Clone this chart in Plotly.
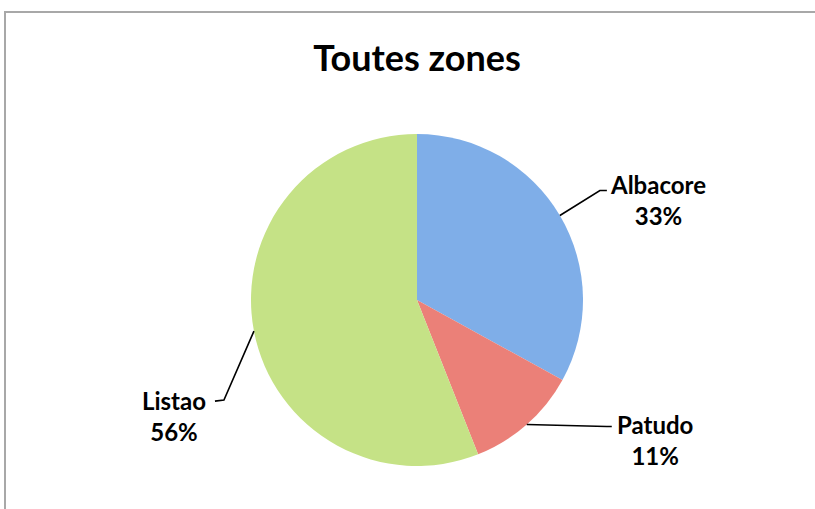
import math
import plotly.graph_objects as go

categories = ["Albacore", "Patudo", "Listao"]
values = [33, 11, 56]
colors = ["#7FAEE8", "#EB8078", "#C5E286"]

W, H = 815, 509
cx, cy, R = 417, 300, 166

fig = go.Figure(go.Pie(
    labels=categories, values=values, sort=False, direction="clockwise",
    rotation=0, textinfo="none", hoverinfo="label+percent",
    marker=dict(colors=colors, line=dict(color="rgba(0,0,0,0)", width=0)),
    domain=dict(x=[(cx - R) / W, (cx + R) / W], y=[1 - (cy + R) / H, 1 - (cy - R) / H]),
    showlegend=False,
))

def px(x, y):
    return x / W, 1 - y / H

# leader line styling offsets (elbow, end, text centre) per slice
styles = [
    dict(elbow=(40, -25), end=(47, -25), text=(98, -15)),
    dict(elbow=(80, 2), end=(85, 2), text=(128, 15)),
    dict(elbow=(-30, 69), end=(-39, 70), text=(-80, 85)),
]

total = sum(values)
cum = 0
shapes = []
annotations = []
for cat, v, st in zip(categories, values, styles):
    mid = cum + v / 2
    cum += v
    ang = math.radians(90 - 360 * mid / total)
    ex, ey = cx + R * math.cos(ang), cy - R * math.sin(ang)
    pts = [(ex, ey), (ex + st["elbow"][0], ey + st["elbow"][1]), (ex + st["end"][0], ey + st["end"][1])]
    path = "M " + " L ".join(f"{px(*p)[0]:.5f},{px(*p)[1]:.5f}" for p in pts)
    shapes.append(dict(type="path", xref="paper", yref="paper", path=path,
                       line=dict(color="black", width=1.6)))
    tx, ty = px(ex + st["text"][0], ey + st["text"][1])
    pct = round(100 * v / total)
    annotations.append(dict(x=tx, y=ty, xref="paper", yref="paper", showarrow=False,
                            text=f"<b>{cat}<br>{pct}%</b>", align="center",
                            xanchor="center", yanchor="middle",
                            font=dict(family="Lato", size=24, color="black")))

# chart frame
shapes.append(dict(type="rect", xref="paper", yref="paper", x0=5 / W, x1=1.02,
                   y0=-0.02, y1=1 - 12 / H, line=dict(color="#A8A8A8", width=2),
                   fillcolor="rgba(0,0,0,0)", layer="below"))

fig.update_layout(
    width=W, height=H, margin=dict(l=0, r=0, t=0, b=0),
    paper_bgcolor="white", plot_bgcolor="white",
    title=dict(text="<b>Toutes zones</b>", x=417 / W, xanchor="center",
               y=1 - 58 / H, yanchor="middle",
               font=dict(family="Lato", size=36, color="black")),
    shapes=shapes, annotations=annotations,
)

fig.write_html("out.html", config={"displayModeBar": False},
               post_script="document.body.style.margin='0';")
